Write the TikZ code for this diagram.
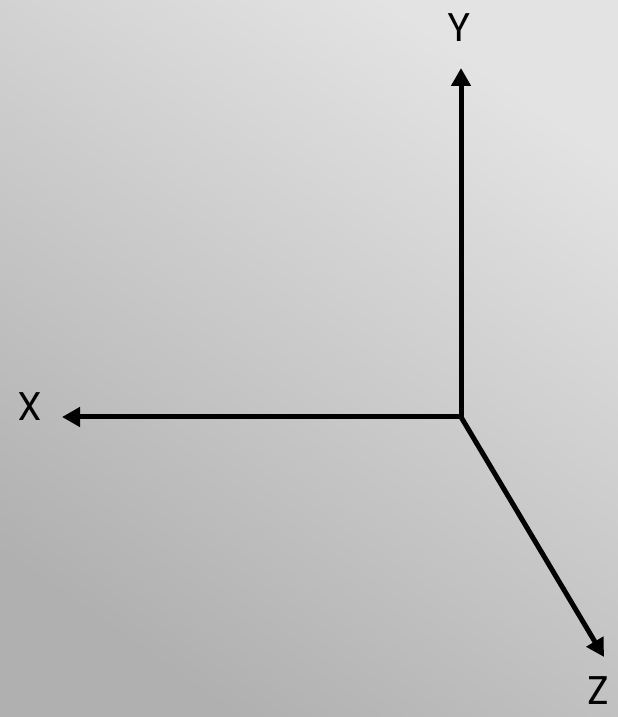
\documentclass[tikz,border=0pt]{standalone}
\usepackage{fontspec}
\setmainfont{Poppins}
\usepackage{tikz}
\usetikzlibrary{arrows.meta, positioning}

\begin{document}
\begin{tikzpicture}[x=1pt, y=1pt,
    axisline/.style={line width=5pt, -{Triangle[length=18pt,width=19pt]}},
    axislabel/.style={font=\fontsize{40}{46}\selectfont, inner sep=0pt}]

% ── Background ──────────────────────────────────────────────
\shade[shading=axis, top color=gray!22, bottom color=gray!62, shading angle=-35]
    (0,0) rectangle (618,717);
\useasboundingbox (0,0) rectangle (618,717);

% ── Axis end points ─────────────────────────────────────────
\coordinate (origin) at (461,300);
\coordinate (ytip)   at (461,649);
\coordinate (xtip)   at (62,300);
\coordinate (ztip)   at (604,60);

% ── Labels ──────────────────────────────────────────────────
\node[axislabel] (ylabel) at (459,689) {Y};
\node[axislabel] (xlabel) at (30,310)  {X};
\node[axislabel] (zlabel) at (598,26)  {Z};

% ── Axes ────────────────────────────────────────────────────
\draw[axisline] (origin) -- (ytip);
\draw[axisline] (origin) -- (xtip);
\draw[axisline] (origin) -- (ztip);

\end{tikzpicture}
\end{document}
